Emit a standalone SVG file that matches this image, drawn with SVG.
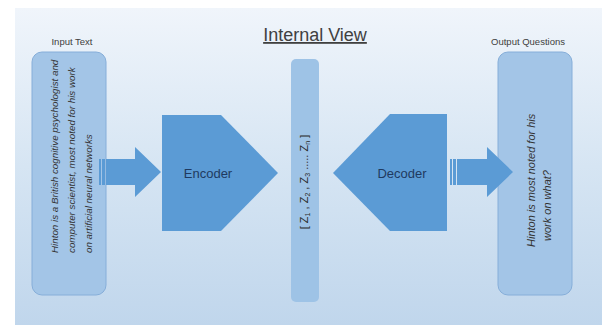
<svg xmlns="http://www.w3.org/2000/svg" width="602" height="325" viewBox="0 0 602 325">
  <defs>
    <linearGradient id="bg" x1="0" y1="0" x2="0" y2="1">
      <stop offset="0" stop-color="#f0f5fb"/>
      <stop offset="0.5" stop-color="#d6e5f3"/>
      <stop offset="1" stop-color="#c0d6ec"/>
    </linearGradient>
  </defs>
  <style>
    .label { font-family: "Liberation Sans", Arial, sans-serif; font-size: 9.5px; fill: #404040; text-anchor: middle; }
    .title { font-family: "Liberation Sans", Arial, sans-serif; font-size: 18px; fill: #404040; text-anchor: middle; text-decoration: underline; }
    .box { fill: #a3c5e7; stroke: #86aed9; stroke-width: 1; }
    .latent { fill: #9ec3e6; }
    .block { fill: #5b9bd5; }
    .blocktext { font-family: "Liberation Sans", Arial, sans-serif; font-size: 13px; fill: #1f3a60; text-anchor: middle; }
    .body { font-family: "Liberation Sans", Arial, sans-serif; font-style: italic; fill: #333333; }
    .vec { font-family: "Liberation Sans", Arial, sans-serif; font-size: 11px; fill: #2b2b2b; text-anchor: middle; }
  </style>

  <!-- backdrop -->
  <rect x="15" y="8" width="587" height="317" fill="url(#bg)"/>

  <text class="title" x="315" y="41">Internal View</text>

  <!-- input text card -->
  <g id="input-text">
    <text class="label" x="72" y="45">Input Text</text>
    <rect class="box" x="32" y="52" width="74" height="243" rx="10" ry="10"/>
    <g class="body" font-size="9.8">
      <text transform="translate(58,253) rotate(-90)">Hinton is a British cognitive psychologist and</text>
      <text transform="translate(75,253) rotate(-90)">computer scientist, most noted for his work</text>
      <text transform="translate(92,253) rotate(-90)">on artificial neural networks</text>
    </g>
  </g>

  <!-- encoder block -->
  <g id="encoder">
    <polygon class="block" points="162,115 221,115 278,173 221,231 162,231"/>
    <text class="blocktext" x="208" y="178">Encoder</text>
  </g>

  <!-- latent vector -->
  <g id="latent">
    <rect class="latent" x="291" y="59" width="28" height="243" rx="5" ry="5"/>
    <text class="vec" transform="translate(308,182) rotate(-90)">[ Z<tspan font-size="7" dy="2">1</tspan><tspan dy="-2"> , Z</tspan><tspan font-size="7" dy="2">2</tspan><tspan dy="-2"> , Z</tspan><tspan font-size="7" dy="2">3</tspan><tspan dy="-2"> ..... Z</tspan><tspan font-size="7" dy="2">n</tspan><tspan dy="-2"> ]</tspan></text>
  </g>

  <!-- decoder block -->
  <g id="decoder">
    <polygon class="block" points="333,173 390,114 447,114 447,231 390,231"/>
    <text class="blocktext" x="402" y="178">Decoder</text>
  </g>

  <!-- output questions card -->
  <g id="output-questions">
    <text class="label" x="528" y="45">Output Questions</text>
    <rect class="box" x="498" y="52" width="74" height="243" rx="10" ry="10"/>
    <g class="body" font-size="11">
      <text transform="translate(535,247) rotate(-90)">Hinton is most noted for his</text>
      <text transform="translate(551,241) rotate(-90)">work on what?</text>
    </g>
  </g>

  <!-- striped arrows -->
  <g id="connectors">
    <g class="block">
      <rect x="99" y="159" width="2" height="26"/>
      <rect x="102" y="159" width="3" height="26"/>
      <polygon points="106,159 135,159 135,147 161,172 135,197 135,185 106,185"/>
    </g>
    <g class="block">
      <rect x="450" y="159" width="2" height="26"/>
      <rect x="453" y="159" width="3" height="26"/>
      <polygon points="457,159 487,159 487,147 513,172 487,197 487,185 457,185"/>
    </g>
  </g>
</svg>
